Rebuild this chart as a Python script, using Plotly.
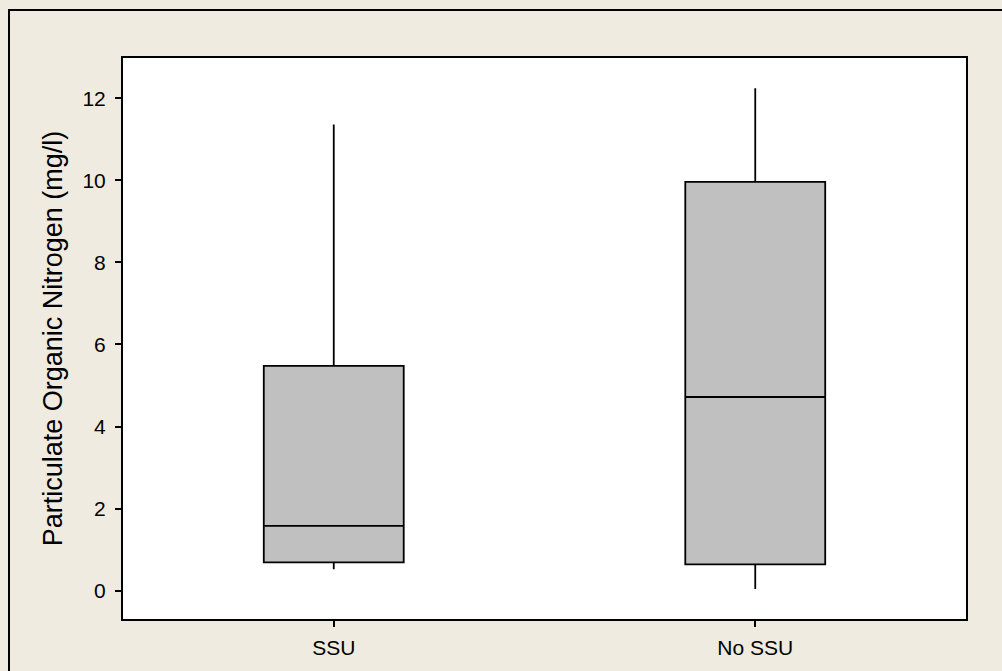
import plotly.graph_objects as go

categories = ["SSU", "No SSU"]
q1_vals = [0.69, 0.64]
median_vals = [1.58, 4.72]
q3_vals = [5.48, 9.96]
lower_vals = [0.52, 0.04]
upper_vals = [11.36, 12.24]
y_ticks = [0, 2, 4, 6, 8, 10, 12]

FONT = "Liberation Sans"
BG = "#EFEBE1"

fig = go.Figure()
fig.add_trace(go.Box(
    x=[0, 1],
    q1=q1_vals,
    median=median_vals,
    q3=q3_vals,
    lowerfence=lower_vals,
    upperfence=upper_vals,
    fillcolor="#C0C0C0",
    line=dict(color="black", width=1.8),
    whiskerwidth=0,
    width=0.332,
    boxpoints=False,
    hoverinfo="skip",
    showlegend=False,
))

fig.update_layout(
    width=1002,
    height=671,
    paper_bgcolor=BG,
    plot_bgcolor="white",
    margin=dict(l=123, r=36, t=58, b=52),
    font=dict(family=FONT, size=21, color="black"),
    xaxis=dict(
        tickmode="array",
        tickvals=[0, 1],
        ticktext=categories,
        range=[-0.5, 1.5],
        showline=True, linecolor="black", linewidth=2, mirror=True,
        ticks="outside", ticklen=6, tickcolor="black", tickwidth=1.5,
        showgrid=False, zeroline=False,
        tickfont=dict(family=FONT, size=21),
        ticklabelstandoff=3,
    ),
    yaxis=dict(
        tickmode="array",
        tickvals=y_ticks,
        ticktext=[str(v) for v in y_ticks],
        range=[-0.69, 12.98],
        showline=True, linecolor="black", linewidth=2, mirror=True,
        ticks="outside", ticklen=6, tickcolor="black", tickwidth=1.5,
        showgrid=False, zeroline=False,
        tickfont=dict(family=FONT, size=21),
        ticklabelstandoff=5,
        title=dict(text="Particulate Organic Nitrogen (mg/l)",
                   font=dict(family=FONT, size=27), standoff=12),
    ),
    shapes=[dict(
        type="rect", xref="paper", yref="paper",
        x0=(9 - 123) / 843, x1=1.2,
        y0=-0.3, y1=1 + (58 - 10) / 561,
        line=dict(color="black", width=2),
        fillcolor="rgba(0,0,0,0)", layer="below",
    )],
)

fig.write_html(
    "out.html",
    config={"displayModeBar": False},
    post_script="document.body.style.margin='0';document.body.style.overflow='hidden';",
)
